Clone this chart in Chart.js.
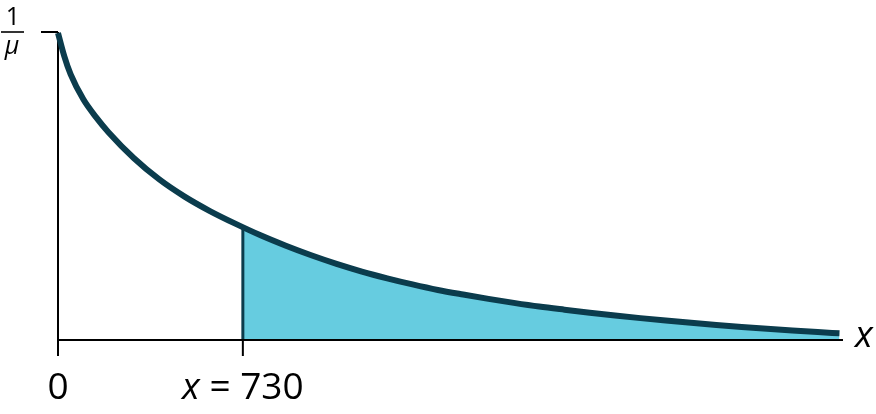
<!DOCTYPE html>
<html>
<head>
<meta charset="utf-8">
<script src="https://cdn.jsdelivr.net/npm/chart.js@4.4.1/dist/chart.umd.min.js"></script>
<style>
  html, body { margin: 0; padding: 0; background: #ffffff; }
  #wrap { width: 876px; height: 414px; position: relative; }
</style>
</head>
<body>
<div id="wrap"><canvas id="c" width="876" height="414"></canvas></div>
<script>
// Curve: x (time) and density as a fraction of 1/mu
const curveX = [0, 25, 50, 100, 150, 200, 300, 400, 500, 600, 700, 800, 900, 1000, 1100, 1200, 1300, 1400, 1500, 1600, 1700, 1800, 1900, 2000, 2100, 2200, 2300, 2400, 2500, 2600, 2700, 2800, 2900, 3000, 3086];
const curveY = [1.000, 0.924, 0.865, 0.784, 0.726, 0.676, 0.592, 0.523, 0.467, 0.420, 0.379, 0.341, 0.307, 0.276, 0.248, 0.223, 0.201, 0.181, 0.163, 0.148, 0.134, 0.121, 0.109, 0.0987, 0.0889, 0.0798, 0.0713, 0.0634, 0.0559, 0.0489, 0.0423, 0.0363, 0.0308, 0.0257, 0.0218];
const cutX = 730;
const cutY = 0.368;
const xTickValues = [0, 730];
const xTickLabels = ["0", "= 730"];
const yTopLabel = ["1", "μ"];
const axisLabel = "x";

const curve = curveX.map((x, i) => ({ x: x, y: curveY[i] }));

const dark = '#0b3c4d';
const fillCol = '#66cce0';

const axesPlugin = {
  id: 'axesPlugin',
  beforeDatasetsDraw(chart) {
    const ctx = chart.ctx;
    const xs = chart.scales.x, ys = chart.scales.y;
    const x0 = xs.getPixelForValue(0);
    const yTop = ys.getPixelForValue(1);
    const yBot = ys.getPixelForValue(0);
    ctx.save();
    ctx.strokeStyle = '#000';
    ctx.lineWidth = 2;
    ctx.beginPath();
    ctx.moveTo(x0, yTop - 1);
    ctx.lineTo(x0, yBot);
    ctx.moveTo(x0 - 17, yTop - 1);
    ctx.lineTo(x0, yTop - 1);
    ctx.stroke();
    ctx.restore();
    // clip the shaded area (dataset 0, drawn first) to x >= cutX
    const left = xs.getPixelForValue(cutX);
    ctx.save();
    ctx.beginPath();
    ctx.rect(left, 0, chart.width - left, chart.height);
    ctx.clip();
    this._clipped = true;
  },
  afterDatasetDraw(chart, args) {
    if (args.index === 0 && this._clipped) {
      chart.ctx.restore();
      this._clipped = false;
    }
  },
  afterDatasetsDraw(chart) {
    const ctx = chart.ctx;
    if (this._clipped) { ctx.restore(); this._clipped = false; }
    const xs = chart.scales.x, ys = chart.scales.y;
    const yBot = ys.getPixelForValue(0);
    const yTop = ys.getPixelForValue(1);
    const xStart = xs.getPixelForValue(0);
    const xEnd = xs.getPixelForValue(xs.max);
    ctx.save();
    ctx.strokeStyle = '#000';
    ctx.lineWidth = 2;
    ctx.beginPath();
    ctx.moveTo(xStart - 1, yBot);
    ctx.lineTo(xEnd, yBot);
    xTickValues.forEach(v => {
      const px = xs.getPixelForValue(v);
      ctx.moveTo(px, yBot);
      ctx.lineTo(px, yBot + 16);
    });
    ctx.stroke();

    // tick labels
    ctx.fillStyle = '#000';
    ctx.textBaseline = 'alphabetic';
    ctx.font = '37px "Open Sans"';
    ctx.textAlign = 'center';
    ctx.fillText(xTickLabels[0], xs.getPixelForValue(xTickValues[0]), 399);
    // "x = 730"
    const px730 = xs.getPixelForValue(xTickValues[1]);
    ctx.font = 'italic 37px "Open Sans"';
    const wx = ctx.measureText(axisLabel).width;
    ctx.font = '37px "Open Sans"';
    const wRest = ctx.measureText(' ' + xTickLabels[1]).width;
    const startX = px730 - (wx + wRest) / 2;
    ctx.textAlign = 'left';
    ctx.font = 'italic 37px "Open Sans"';
    ctx.fillText(axisLabel, startX, 399);
    ctx.font = '37px "Open Sans"';
    ctx.fillText(' ' + xTickLabels[1], startX + wx, 399);

    // axis label at right end
    ctx.font = 'italic 37px "Open Sans"';
    ctx.textAlign = 'left';
    ctx.fillText(axisLabel, 855, 347);

    // 1/mu label
    ctx.textAlign = 'center';
    ctx.font = '25px "Open Sans"';
    ctx.fillText(yTopLabel[0], 13, 25);
    ctx.lineWidth = 1.6;
    ctx.beginPath();
    ctx.moveTo(1, yTop - 1);
    ctx.lineTo(24, yTop - 1);
    ctx.stroke();
    ctx.font = 'italic 25px "Open Sans"';
    ctx.fillText(yTopLabel[1], 12, 54);
    ctx.restore();
  }
};

new Chart(document.getElementById('c'), {
  type: 'scatter',
  data: {
    datasets: [
      {
        label: 'shaded',
        data: curve,
        showLine: true,
        borderWidth: 0,
        borderColor: 'rgba(0,0,0,0)',
        backgroundColor: fillCol,
        fill: 'origin',
        pointRadius: 0,
        cubicInterpolationMode: 'monotone',
        order: 3
      },
      {
        label: 'cut',
        data: [{ x: cutX, y: 0 }, { x: cutX, y: cutY }],
        showLine: true,
        borderWidth: 3,
        borderColor: dark,
        pointRadius: 0,
        fill: false,
        order: 2
      },
      {
        label: 'curve',
        data: curve,
        showLine: true,
        borderWidth: 6,
        borderColor: dark,
        borderCapStyle: 'butt',
        borderJoinStyle: 'round',
        pointRadius: 0,
        fill: false,
        cubicInterpolationMode: 'monotone',
        clip: false,
        order: 1
      }
    ]
  },
  options: {
    responsive: false,
    animation: false,
    devicePixelRatio: 1,
    layout: { padding: { left: 58, right: 33, top: 33, bottom: 74 } },
    plugins: {
      legend: { display: false },
      tooltip: { enabled: false }
    },
    scales: {
      x: { type: 'linear', min: 0, max: 3100, display: false },
      y: { type: 'linear', min: 0, max: 1, display: false }
    }
  },
  plugins: [axesPlugin]
});
</script>
</body>
</html>
